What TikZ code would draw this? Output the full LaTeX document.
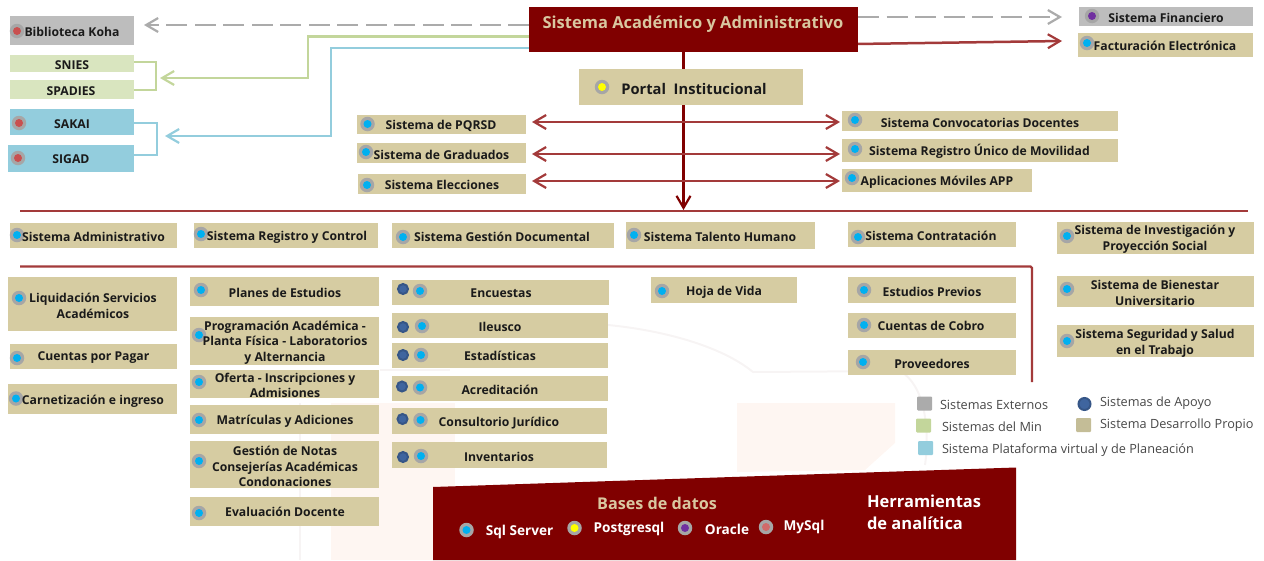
\documentclass[tikz,border=0pt]{standalone}
\usepackage{fontspec}
\setmainfont{Open Sans}
\usetikzlibrary{arrows.meta}
\definecolor{tan}{HTML}{D6CCA2}
\definecolor{gbox}{HTML}{BDBDBD}
\definecolor{mbox}{HTML}{D9E5BF}
\definecolor{bbox}{HTML}{93CDDD}
\definecolor{mroon}{HTML}{800000}
\definecolor{lnred}{HTML}{A33A3A}
\definecolor{lngreen}{HTML}{C3D69B}
\definecolor{lnblue}{HTML}{93CDDD}
\definecolor{lngrey}{HTML}{ABABAB}
\definecolor{dcyan}{HTML}{00B0F0}
\definecolor{dred}{HTML}{C9504F}
\definecolor{dyel}{HTML}{FFFF00}
\definecolor{dpur}{HTML}{7030A0}
\definecolor{dnavy}{HTML}{3F659F}
\definecolor{txt}{HTML}{1A1A1A}
\definecolor{ltxt}{HTML}{D9C7A0}
\definecolor{wm}{HTML}{FEF6F2}
\definecolor{wml}{HTML}{F7F4F4}
\definecolor{lsq}{HTML}{C4BD97}
\newcommand{\bx}[6]{\node[boxstyle,fill=#5,minimum width={(#3-#1)*1pt},minimum height={(#4-#2)*1pt}] (#6) at ({(#1+#3)/2},{(#2+#4)/2}) {};}
\newcommand{\tx}[4]{\node[lab] (#4) at (#1,#2) {#3};}
\newcommand{\dt}[4]{\node[dotout] (#4o) at (#1,#2) {}; \node[dotin,fill=#3] (#4) at (#1,#2) {};}
\newcommand{\ap}[3]{\node[apo] (#3) at (#1,#2) {};}
\tikzset{
 x=1pt,y=-1pt,
 boxstyle/.style={rectangle,inner sep=0,outer sep=0,draw=none},
 lab/.style={inner sep=0,outer sep=0,align=center,yshift=-1pt,font=\fontsize{12.2}{15.7}\selectfont\bfseries,text=txt},
 leg/.style={inner sep=0,outer sep=0,anchor=west,yshift=-1pt,font=\fontsize{12.7}{15}\selectfont,text=black!72},
 dotout/.style={circle,inner sep=0,minimum size=14.5pt,fill=black!35},
 dotin/.style={circle,inner sep=0,minimum size=8pt},
 apo/.style={circle,inner sep=0,minimum size=10pt,fill=dnavy,draw=dnavy!85!black,line width=2pt},
 conn/.style={line width=2.5pt,-{Straight Barb[length=12pt,width=14pt,line width=2.2pt]}},
 dconn/.style={line width=2.5pt,{Straight Barb[length=12pt,width=14pt,line width=2.2pt]}-{Straight Barb[length=12pt,width=14pt,line width=2.2pt]}},
 db/.style={lab,text=white,font=\fontsize{13.6}{15}\selectfont\bfseries},
}
\begin{document}
\begin{tikzpicture}
\useasboundingbox (0,0) rectangle (1264,560);
% watermark
\fill[wm] (331,403) rectangle (455,560);
\fill[wm] (737,403) -- (895,403) -- (895,443) -- (865,470) -- (737,472) -- cycle;
\draw[wml,line width=2pt] (380,370) -- (450,370);
\draw[wml,line width=2pt] (608,325) .. controls (660,330) and (720,345) .. (753,372) -- (900,371) .. controls (925,385) and (930,430) .. (925,465);
\draw[wml,line width=2pt] (300,403) -- (300,560);
% helper coordinates for connectors
\coordinate (gw1) at (308,36.5); \coordinate (gw2) at (308,78);
\coordinate (bw1) at (331,48); \coordinate (bw2) at (331,136);
\coordinate (kohaEnd) at (144,25); \coordinate (minEnd) at (160,78); \coordinate (platEnd) at (165,136);
\coordinate (mainG) at (529,36.5); \coordinate (mainB) at (529,48); \coordinate (mainK) at (529,25);
\coordinate (mainF) at (858,17); \coordinate (finEnd) at (1062,17);
\coordinate (mainE) at (856,44); \coordinate (facEnd) at (1062,41);
\coordinate (vtop) at (683.5,52); \coordinate (vend) at (683.5,210);
\coordinate (l1a) at (20,211); \coordinate (l1b) at (1248,211);
\coordinate (l2a) at (20,266.5); \coordinate (l2c) at (1032,266.5); \coordinate (l2b) at (1032,382);
% connectors behind boxes
\draw[conn,mroon] (vtop) -- (vend);
\draw[lnred,line width=2.4pt] (l1a) -- (l1b);
\draw[lnred,line width=2.4pt,rounded corners=1.5pt] (l2a) -- (l2c) -- (l2b);
\draw[conn,lngrey,dash pattern=on 21pt off 7.5pt] (mainK) -- (kohaEnd);
\draw[conn,lngrey,dash pattern=on 21pt off 7.5pt] (mainF) -- (finEnd);
\draw[conn,lnred] (mainE) -- (facEnd);
\draw[conn,lngreen] (mainG) -- (gw1) -- (gw2) -- (minEnd);
\draw[conn,lnblue] (mainB) -- (bw1) -- (bw2) -- (platEnd);
% top left
\bx{10}{16}{134}{45}{gbox}{koha}\dt{17}{31}{dred}{dkoha}\tx{72}{31}{Biblioteca Koha}{tkoha}
\bx{10}{55}{134}{72}{mbox}{snies}\tx{72}{64}{SNIES}{tsnies}
\bx{10}{80}{134}{99}{mbox}{spadies}\tx{71}{90}{SPADIES}{tspadies}
\bx{10}{109}{134}{135}{bbox}{sakai}\dt{19}{123}{dred}{dsakai}\tx{72}{123}{SAKAI}{tsakai}
\bx{8}{145}{134}{172}{bbox}{sigad}\dt{18}{158}{dred}{dsigad}\tx{71}{158}{SIGAD}{tsigad}
\draw[lngreen,line width=2pt] (snies.east |- 0,62) -- (156,62) -- (156,90) -- (spadies.east |- 0,90);
\draw[lnblue,line width=2.2pt] (sakai.east |- 0,123) -- (157,123) -- (157,155) -- (sigad.east |- 0,155);
% main
\bx{529}{7}{858}{52}{mroon}{main}
\node[lab,text=ltxt,font=\fontsize{16.5}{19}\selectfont\bfseries] (tmain) at (693,23) {Sistema Académico y Administrativo};
\bx{1079}{7}{1253}{26}{gbox}{fin}\dt{1092}{16}{dpur}{dfin}\tx{1166}{17}{Sistema Financiero}{tfin}
\bx{1078}{33}{1253}{57}{tan}{fac}\dt{1087}{43}{dcyan}{dfac}\tx{1165}{45}{Facturación Electrónica}{tfac}
\bx{579}{69}{803}{105}{tan}{portal}\dt{602}{87}{dyel}{dportal}
\node[lab,font=\fontsize{14.7}{17}\selectfont\bfseries] (tportal) at (694,88) {Portal\ \ Institucional};
% portal row
\bx{357}{115}{526}{134}{tan}{pqrsd}\dt{367.5}{124}{dcyan}{dpq}\tx{441}{125}{Sistema de PQRSD}{tpq}
\bx{357}{143}{526}{163}{tan}{grad}\dt{366}{152}{dcyan}{dgr}\tx{441.5}{154}{Sistema de Graduados}{tgr}
\bx{358}{174}{526}{194}{tan}{elec}\dt{367}{185}{dcyan}{del}\tx{442}{184}{Sistema Elecciones}{tel}
\bx{842}{111}{1118}{131}{tan}{conv}\dt{855}{120}{dcyan}{dco}\tx{980}{122}{Sistema Convocatorias Docentes}{tco}
\bx{842}{139}{1118}{162}{tan}{mov}\dt{855}{149}{dcyan}{dmo}\tx{979.5}{150}{Sistema Registro Único de Movilidad}{tmo}
\bx{842}{169}{1032}{192}{tan}{app}\dt{852}{178}{dcyan}{dap}\tx{937}{181}{Aplicaciones Móviles APP}{tap}
\coordinate (a1l) at (532,122); \coordinate (a1r) at (840,122);
\coordinate (a2l) at (532,154); \coordinate (a2r) at (840,154);
\coordinate (a3l) at (532,181); \coordinate (a3r) at (840,181);
\draw[dconn,lnred] (a1l) -- (a1r);
\draw[dconn,lnred] (a2l) -- (a2r);
\draw[dconn,lnred] (a3l) -- (a3r);
% heads row
\bx{10}{223}{177}{248}{tan}{adm}\dt{17}{235}{dcyan}{dadm}\tx{93.5}{236}{Sistema Administrativo}{tadm}
\bx{194}{223}{378}{248}{tan}{reg}\dt{201}{234}{dcyan}{dreg}\tx{287}{236}{Sistema Registro y Control}{treg}
\bx{392}{223}{614}{248}{tan}{doc}\dt{403}{237}{dcyan}{ddoc}\tx{502}{236}{Sistema Gestión Documental}{tdoc}
\bx{626}{222}{815}{249}{tan}{tal}\dt{634}{235}{dcyan}{dtal}\tx{720}{236}{Sistema Talento Humano}{ttal}
\bx{848}{222}{1016}{247}{tan}{con}\dt{858}{237}{dcyan}{dcon}\tx{931}{235}{Sistema Contratación}{tcon}
\bx{1057}{222}{1254}{254}{tan}{inv}\dt{1067}{236}{dcyan}{dinv}\tx{1155}{238.5}{Sistema de Investigación y\\Proyección Social}{tinv}
% column 1
\bx{8}{277}{177}{331}{tan}{liq}\dt{19}{298}{dcyan}{dliq}\tx{93}{305}{Liquidación Servicios\\Académicos}{tliq}
\bx{10}{344}{177}{369}{tan}{cpp}\dt{17}{358}{dcyan}{dcpp}\tx{93.5}{357}{Cuentas por Pagar}{tcpp}
\bx{8}{384}{177}{414}{tan}{car}\dt{16}{398.5}{dcyan}{dcar}\tx{93}{400}{Carnetización e ingreso}{tcar}
% column 2
\bx{190}{277}{379}{306}{tan}{pla}\dt{201}{290}{dcyan}{dpla}\tx{285}{292}{Planes de Estudios}{tpla}
\bx{190}{317}{379}{365}{tan}{pro}\dt{199}{335}{dcyan}{dpro}\tx{285}{341.5}{Programación Académica -\\Planta Física - Laboratorios\\y Alternancia}{tpro}
\bx{190}{370}{379}{398}{tan}{ofe}\dt{199}{382}{dcyan}{dofe}\tx{285}{384.5}{Oferta - Inscripciones y\\Admisiones}{tofe}
\bx{190}{405}{379}{434}{tan}{mat}\dt{199}{420}{dcyan}{dmat}\tx{285}{420}{Matrículas y Adiciones}{tmat}
\bx{190}{441}{379}{488}{tan}{not}\dt{199}{461}{dcyan}{dnot}\tx{285}{465.5}{Gestión de Notas\\Consejerías Académicas\\Condonaciones}{tnot}
\bx{190}{497}{379}{526}{tan}{eva}\dt{199}{513}{dcyan}{deva}\tx{285}{511}{Evaluación Docente}{teva}
% column 3
\bx{392}{280}{609}{305}{tan}{enc}\ap{403}{289}{aenc}\dt{420}{291}{dcyan}{denc}\tx{501}{292}{Encuestas}{tenc}
\bx{392}{313}{608}{338}{tan}{ile}\ap{403}{327}{aile}\dt{422}{326}{dcyan}{dile}\tx{500}{326}{Ileusco}{tile}
\bx{392}{343}{608}{368}{tan}{est}\ap{403}{355}{aest}\dt{421}{355}{dcyan}{dest}\tx{500}{355}{Estadísticas}{test}
\bx{392}{376}{608}{401}{tan}{acr}\ap{402}{386.5}{aacr}\dt{420}{387.5}{dcyan}{dacr}\tx{500}{389}{Acreditación}{tacr}
\bx{392}{408}{607}{434}{tan}{cju}\ap{402.5}{419}{acju}\dt{420.5}{420}{dcyan}{dcju}\tx{499}{422}{Consultorio Jurídico}{tcju}
\bx{392}{442}{607}{468}{tan}{ivt}\ap{403}{457}{aivt}\dt{421}{456}{dcyan}{divt}\tx{499}{456}{Inventarios}{tivt}
% column 4, 5, 6
\bx{651}{277}{797}{303}{tan}{hoj}\dt{662}{291}{dcyan}{dhoj}\tx{724}{291}{Hoja de Vida}{thoj}
\bx{848}{277}{1016}{303}{tan}{epr}\dt{864}{290}{dcyan}{depr}\tx{932}{291}{Estudios Previos}{tepr}
\bx{848}{313}{1016}{338}{tan}{cob}\dt{864}{325}{dcyan}{dcob}\tx{931}{325}{Cuentas de Cobro}{tcob}
\bx{848}{350}{1016}{375}{tan}{prv}\dt{863}{362}{dcyan}{dprv}\tx{932}{363}{Proveedores}{tprv}
\bx{1057}{276}{1254}{307}{tan}{bie}\dt{1067}{289}{dcyan}{dbie}\tx{1155}{292}{Sistema de Bienestar\\Universitario}{tbie}
\bx{1057}{325}{1254}{357}{tan}{seg}\dt{1067}{341}{dcyan}{dseg}\tx{1155}{342}{Sistema Seguridad y Salud\\en el Trabajo}{tseg}
% legend
\node[boxstyle,fill=lngrey,rounded corners=1pt,minimum width=15pt,minimum height=14pt] (lg1) at (924.5,403.5) {};
\node[leg] (lt1) at (940,404) {Sistemas Externos};
\node[boxstyle,fill=lngreen,rounded corners=1pt,minimum width=15pt,minimum height=14pt] (lg2) at (923.5,425.5) {};
\node[leg] (lt2) at (942,426) {Sistemas del Min};
\node[boxstyle,fill=lnblue,rounded corners=1pt,minimum width=15pt,minimum height=14pt] (lg3) at (925.5,448) {};
\node[leg] (lt3) at (942,449) {Sistema Plataforma virtual y de Planeación};
\node[apo,minimum size=12pt] (lg4) at (1084.5,404) {};
\node[leg] (lt4) at (1100,402.5) {Sistemas de Apoyo};
\node[boxstyle,fill=lsq,rounded corners=1pt,minimum width=15pt,minimum height=14pt] (lg5) at (1083.5,425) {};
\node[leg] (lt5) at (1100,424) {Sistema Desarrollo Propio};
% bottom panel
\fill[mroon] (433,487) -- (1016,467.5) -- (1016,560) -- (433,560) -- cycle;
\node[lab,text=ltxt,font=\fontsize{16.2}{19}\selectfont\bfseries] (tbd) at (657,502) {Bases de datos};
\dt{466.5}{530}{dcyan}{dsql}\node[db] (tsql) at (519.5,531) {Sql Server};
\dt{574.5}{528}{dyel}{dpg}\node[db] (tpg) at (629,528) {Postgresql};
\dt{685}{528}{dpur}{dor}\node[db] (tor) at (727,528.5) {Oracle};
\dt{766}{527}{dred!85!white}{dmy}\node[db] (tmy) at (804,526) {MySql};
\node[lab,text=white,anchor=west,font=\fontsize{16.5}{22}\selectfont\bfseries,align=left] (therr) at (867,511) {Herramientas\\de analítica};
\end{tikzpicture}
\end{document}
